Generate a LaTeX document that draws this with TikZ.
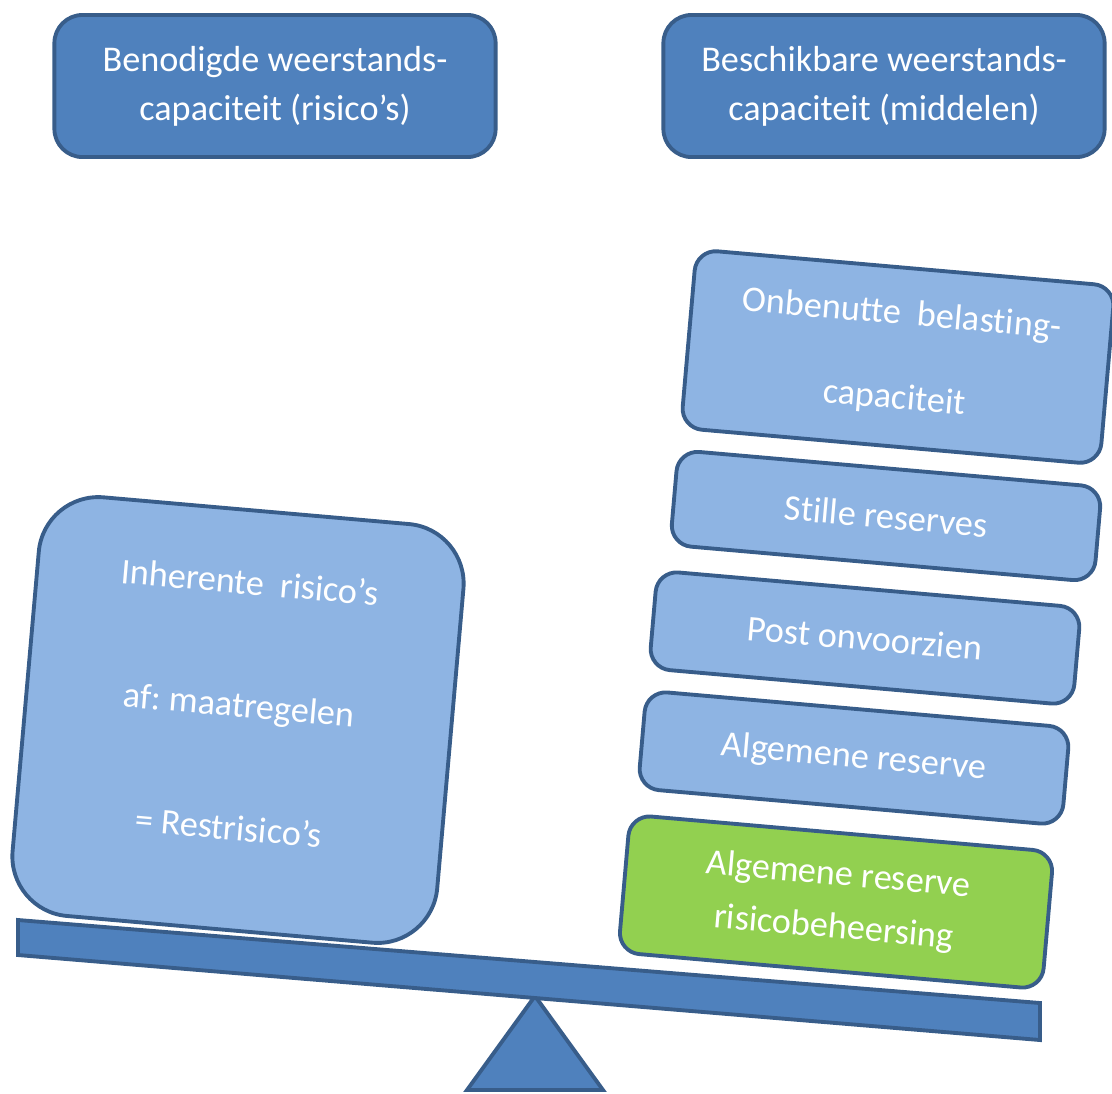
\documentclass[tikz,border=0pt]{standalone}
\usepackage{fontspec}
\setmainfont{Carlito}[Ligatures={TeX,NoCommon}]
\frenchspacing
\definecolor{darkblue}{HTML}{4F81BD}
\definecolor{edgeblue}{HTML}{385D8A}
\definecolor{lightblue}{HTML}{8EB4E3}
\definecolor{lightgreen}{HTML}{92D050}

\begin{document}
\begin{tikzpicture}[x=0.01cm,y=-0.01cm,
    box/.style={draw=edgeblue,line width=1.1pt,text=white,align=center,inner sep=0pt,
        font=\fontsize{10.3}{14}\selectfont},
    head/.style={box,fill=darkblue,minimum width=4.41cm,minimum height=1.42cm,rounded corners=8pt},
    block/.style={box,fill=lightblue,rotate=-5,minimum width=4.25cm,rounded corners=6pt},
    greenblock/.style={block,fill=lightgreen}]
    \useasboundingbox (0,0) rectangle (1112,1093);

                \coordinate (t1) at (535,996);
                \coordinate (t2) at (603,1090);
                \coordinate (t3) at (467,1090);

                \coordinate (b1) at (18,920);
                \coordinate (b2) at (1040,1003);
                \coordinate (b3) at (1040,1040);
                \coordinate (b4) at (18,955);

                \draw[fill=darkblue,draw=edgeblue,line width=1.1pt] (t1)--(t2)--(t3)--cycle;
                \draw[fill=darkblue,draw=edgeblue,line width=1.1pt] (b1)--(b2)--(b3)--(b4)--cycle;

                \node[head] (need) at (275,86) {Benodigde weerstands-\\capaciteit (risico’s)};
                \node[head] (have) at (884,86) {Beschikbare weerstands-\\capaciteit (middelen)};

                \node[block,minimum width=4.26cm,minimum height=4.2cm,rounded corners=17pt] (risks) at (238,720)
                    {Inherente\ \ risico’s\\[21pt] af: maatregelen\\[21pt] = Restrisico’s\\[-5pt]\mbox{}};

                \node[block,minimum width=4.2cm,minimum height=1.79cm] (tax) at (898,357) {Onbenutte\ \ belasting-\\[10pt] capaciteit};
                \node[block,minimum height=0.95cm] (silent) at (886,516) {Stille reserves};
                \node[block,minimum height=0.98cm] (post) at (865,638) {Post onvoorzien};
                \node[block,minimum height=0.98cm] (general) at (854,758) {Algemene reserve};
                \node[greenblock,minimum height=1.38cm] (control) at (836,902) {Algemene reserve\\[1pt] risicobeheersing};
    \end{tikzpicture}
\end{document}
